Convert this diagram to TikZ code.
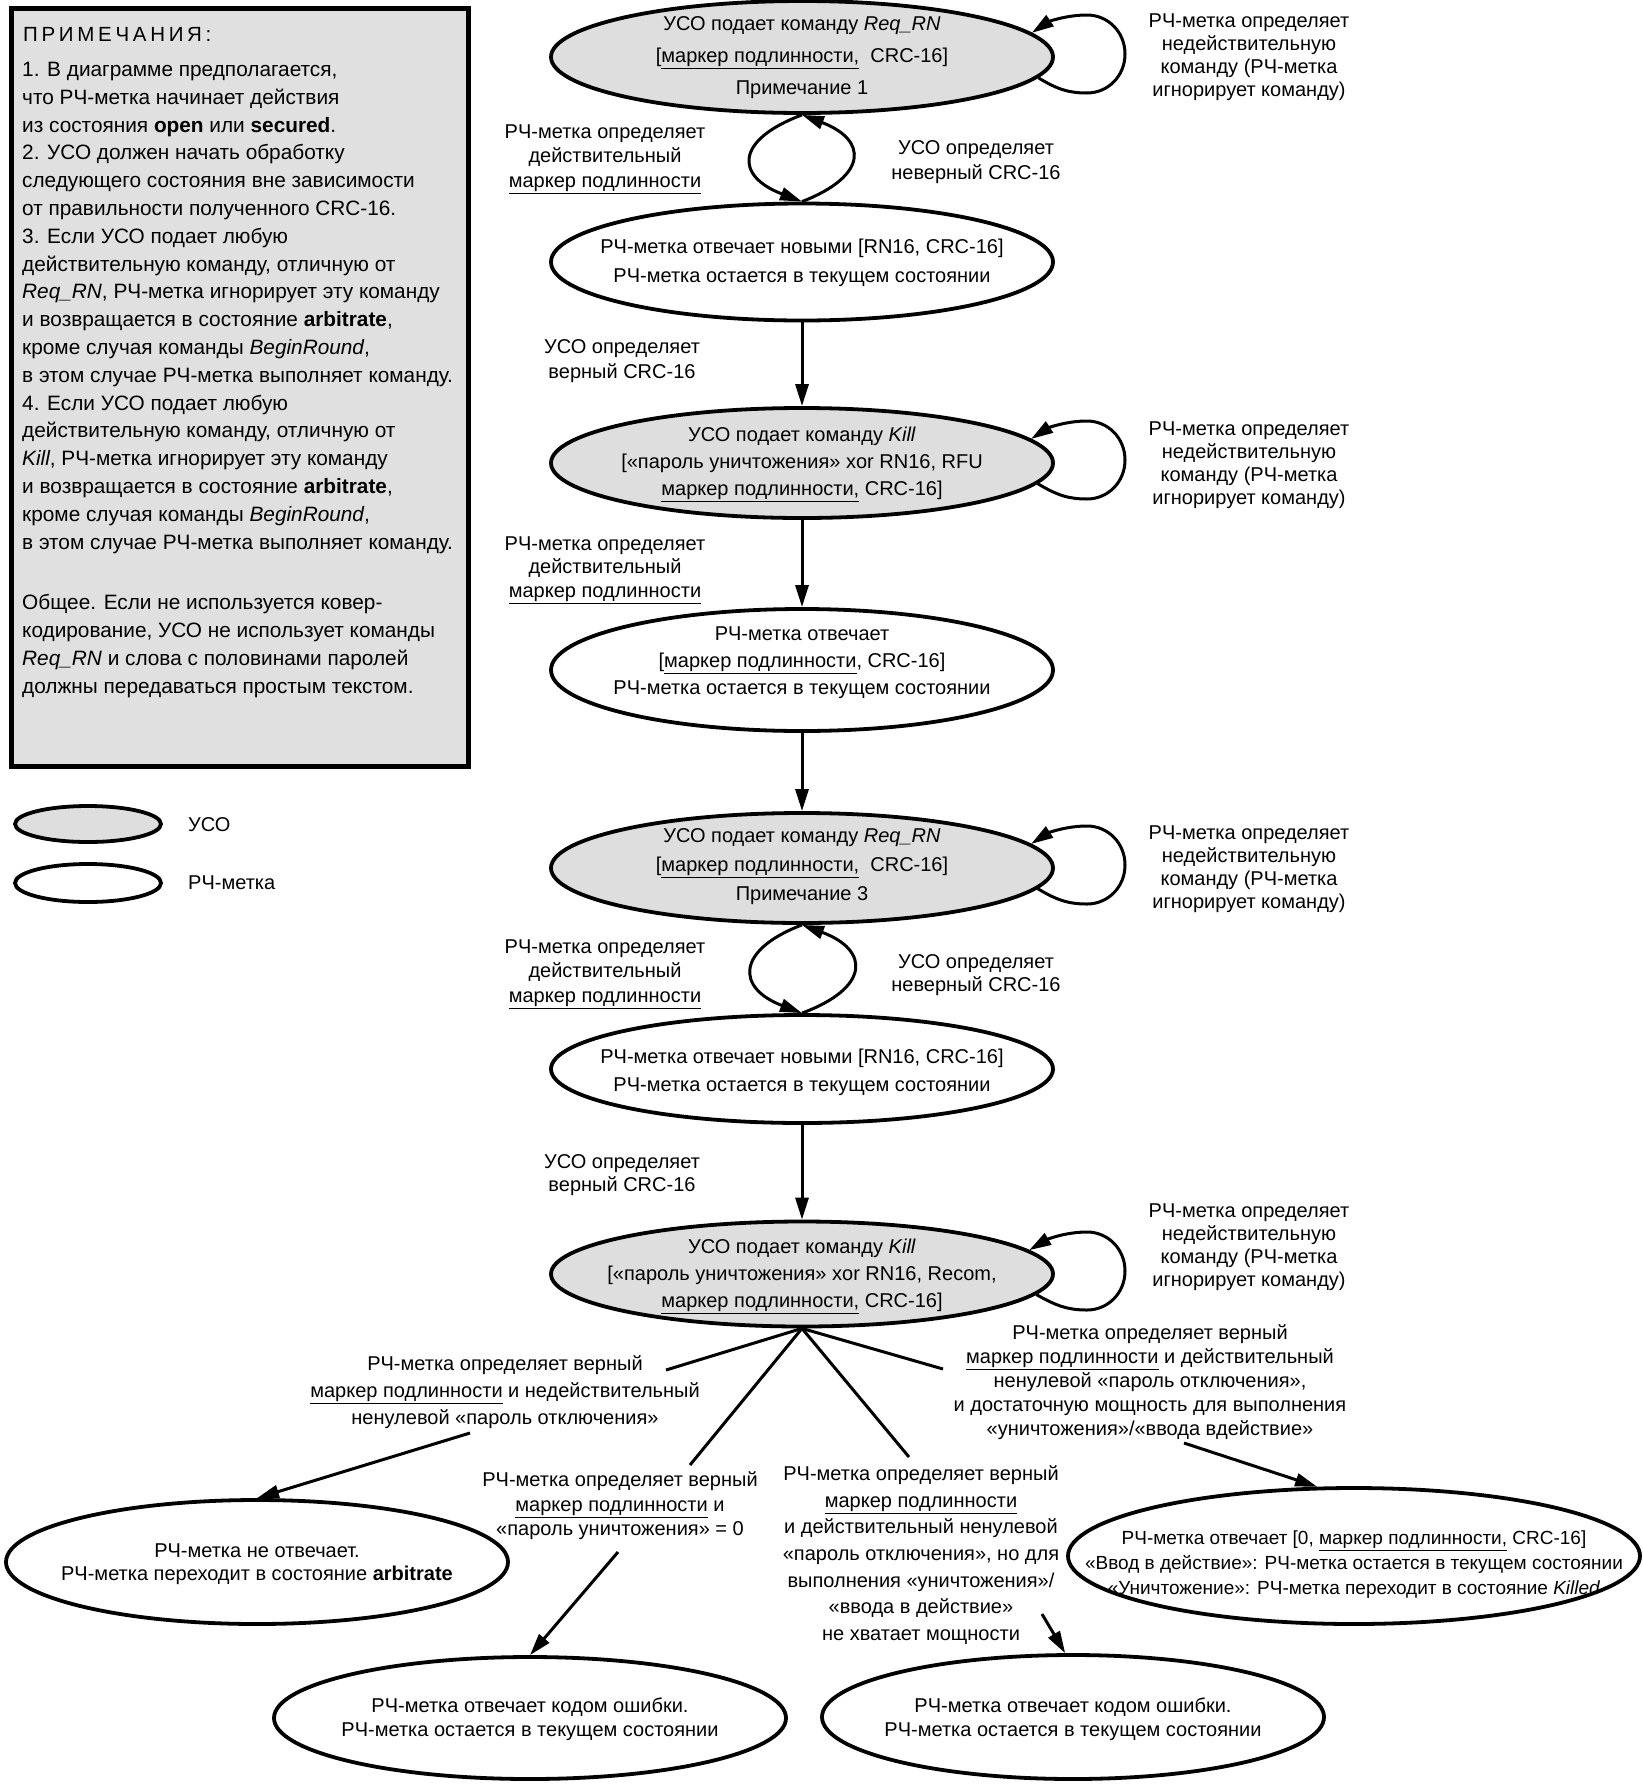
\documentclass[tikz,border=0pt]{standalone}
\usepackage{fontspec}
\setmainfont{Liberation Sans}
\usetikzlibrary{arrows.meta,shapes.geometric,calc}
\newcommand\usoloop[1]{%
  \draw[arr] (#1.-5) .. controls ($(#1.center)+(256,33)$) and ($(#1.center)+(268,36)$) .. ($(#1.center)+(285,36)$)
    .. controls ($(#1.center)+(306,36)$) and ($(#1.center)+(323,19)$) .. ($(#1.center)+(323,-3)$)
    .. controls ($(#1.center)+(323,-25)$) and ($(#1.center)+(306,-42)$) .. ($(#1.center)+(285,-42)$)
    .. controls ($(#1.center)+(264,-42)$) and ($(#1.center)+(246,-35)$) .. (#1.6);}
\begin{document}
\begin{tikzpicture}[x=1pt,y=-1pt,
  every node/.style={font=\fontsize{20}{24}\selectfont},
  usoell/.style={ellipse,draw,line width=3.8pt,fill=black!13,inner sep=0pt},
  tagell/.style={ellipse,draw,line width=3.8pt,fill=white,inner sep=0pt},
  txt/.style={align=center,inner sep=0pt,font=\fontsize{20}{#1}\selectfont},
  txt/.default=25,
  plain/.style={line width=3pt},
  arr/.style={line width=3pt,-{Triangle[length=22pt,width=13pt]}},
]
\useasboundingbox (0,0) rectangle (1642,1786);
\fill[white] (0,0) rectangle (1642,1786);

% ---------- notes box ----------
\node[draw,line width=5pt,fill=black!12,inner sep=0pt,minimum width=457,minimum height=758,anchor=north west] (notes) at (8.5,5.5) {};
\node[anchor=west,inner sep=0pt,font=\fontsize{20.5}{24}\selectfont\addfontfeatures{LetterSpace=18}] (ttl) at (23,34) {ПРИМЕЧАНИЯ:};
\node[anchor=north west,inner sep=0pt,align=left,font=\fontsize{20.8}{27.8}\selectfont] (nb) at (22,62) {%
1. В диаграмме предполагается,\\
что РЧ-метка начинает действия\\
из состояния \textbf{open} или \textbf{secured}.\\
2. УСО должен начать обработку\\
следующего состояния вне зависимости\\
от правильности полученного CRC-16.\\
3. Если УСО подает любую\\
действительную команду, отличную от\\
\textit{Req\_RN}, РЧ-метка игнорирует эту команду\\
и возвращается в состояние \textbf{arbitrate},\\
кроме случая команды \textit{BeginRound},\\
в этом случае РЧ-метка выполняет команду.\\
4. Если УСО подает любую\\
действительную команду, отличную от\\
\textit{Kill}, РЧ-метка игнорирует эту команду\\
и возвращается в состояние \textbf{arbitrate},\\
кроме случая команды \textit{BeginRound},\\
в этом случае РЧ-метка выполняет команду.\\[33pt]
Общее. Если не используется ковер-\\
кодирование, УСО не использует команды\\
\textit{Req\_RN} и слова с половинами паролей\\
должны передаваться простым текстом.};

% ---------- legend ----------
\node[usoell,minimum width=146,minimum height=36] (lg1) at (88,824) {};
\node[anchor=west,inner sep=0pt] (lg1t) at (188,825) {УСО};
\node[tagell,minimum width=146,minimum height=38] (lg2) at (88,883) {};
\node[anchor=west,inner sep=0pt] (lg2t) at (188,883) {РЧ-метка};

% ---------- ellipses ----------
\node[usoell,minimum width=502,minimum height=112] (e1) at (802,57) {};
\node[tagell,minimum width=502,minimum height=117] (e2) at (802,262) {};
\node[usoell,minimum width=502,minimum height=110] (e3) at (802,463) {};
\node[tagell,minimum width=502,minimum height=122] (e4) at (802,670) {};
\node[usoell,minimum width=502,minimum height=110] (e5) at (802,868) {};
\node[tagell,minimum width=502,minimum height=108] (e6) at (802,1069) {};
\node[usoell,minimum width=502,minimum height=105] (e7) at (802,1274) {};
\node[tagell,minimum width=502,minimum height=124] (e8) at (257,1562) {};
\node[tagell,minimum width=512,minimum height=122] (e9) at (530,1718) {};
\node[tagell,minimum width=502,minimum height=124] (e10) at (1073,1717) {};
\node[tagell,minimum width=572,minimum height=136] (e11) at (1354,1556) {};

\node[txt=32] (t1) at (802,58) {УСО подает команду \textit{Req\_RN}\\{[}\underline{маркер подлинности,}\ \ CRC-16]\\Примечание 1};
\node[txt=29] (t2) at (802,263) {РЧ-метка отвечает новыми [RN16, CRC-16]\\РЧ-метка остается в текущем состоянии};
\node[txt=27] (t3) at (802,464) {УСО подает команду \textit{Kill}\\{[}«пароль уничтожения» xor RN16, RFU\\\underline{маркер подлинности,} CRC-16]};
\node[txt=27] (t4) at (802,663) {РЧ-метка отвечает\\{[}\underline{маркер подлинности}, CRC-16]\\РЧ-метка остается в текущем состоянии};
\node[txt=29] (t5) at (802,867) {УСО подает команду \textit{Req\_RN}\\{[}\underline{маркер подлинности,}\ \ CRC-16]\\Примечание 3};
\node[txt=28] (t6) at (802,1072) {РЧ-метка отвечает новыми [RN16, CRC-16]\\РЧ-метка остается в текущем состоянии};
\node[txt=27] (t7) at (802,1276) {УСО подает команду \textit{Kill}\\{[}«пароль уничтожения» xor RN16, Recom,\\\underline{маркер подлинности,} CRC-16]};
\node[txt=23] (t8) at (257,1564) {РЧ-метка не отвечает.\\РЧ-метка переходит в состояние \textbf{arbitrate}};
\node[txt=24] (t9) at (530,1719) {РЧ-метка отвечает кодом ошибки.\\РЧ-метка остается в текущем состоянии};
\node[txt=24] (t10) at (1073,1719) {РЧ-метка отвечает кодом ошибки.\\РЧ-метка остается в текущем состоянии};
\node[align=center,inner sep=0pt,font=\fontsize{19}{25}\selectfont] (t11) at (1354,1565) {РЧ-метка отвечает [0, \underline{маркер подлинности,} CRC-16]\\«Ввод в действие»: РЧ-метка остается в текущем состоянии\\«Уничтожение»: РЧ-метка переходит в состояние \textit{Killed}};

% ---------- self loops ----------
\usoloop{e1}
\usoloop{e3}
\usoloop{e5}
\usoloop{e7}
\node[txt=23] (n1) at (1249,57) {РЧ-метка определяет\\недействительную\\команду (РЧ-метка\\игнорирует команду)};
\node[txt=23] (n3) at (1249,465) {РЧ-метка определяет\\недействительную\\команду (РЧ-метка\\игнорирует команду)};
\node[txt=23] (n5) at (1249,869) {РЧ-метка определяет\\недействительную\\команду (РЧ-метка\\игнорирует команду)};
\node[txt=23] (n7) at (1249,1247) {РЧ-метка определяет\\недействительную\\команду (РЧ-метка\\игнорирует команду)};

% ---------- lenses ----------
\draw[arr] (e1.south) .. controls (735,140) and (735,176) .. (e2.north);
\draw[arr] (e2.north) .. controls (868,176) and (868,140) .. (e1.south);
\draw[arr] (e5.south) .. controls (736,950) and (736,988) .. (e6.north);
\draw[arr] (e6.north) .. controls (870,988) and (870,950) .. (e5.south);
\node[txt=24.5] (ll1) at (605,159) {РЧ-метка определяет\\действительный\\\underline{маркер подлинности}};
\node[txt=25] (lr1) at (976,162) {УСО определяет\\неверный CRC-16};
\node[txt=24.5] (ll2) at (605,974) {РЧ-метка определяет\\действительный\\\underline{маркер подлинности}};
\node[txt=23] (lr2) at (976,975) {УСО определяет\\неверный CRC-16};

% ---------- vertical arrows ----------
\draw[arr] (e2) -- (e3);
\draw[arr] (e3) -- (e4);
\draw[arr] (e4) -- (e5);
\draw[arr] (e6) -- (e7);
\node[txt=25] (v1) at (622,361) {УСО определяет\\верный CRC-16};
\node[txt=23.5] (v2) at (605,570) {РЧ-метка определяет\\действительный\\\underline{маркер подлинности}};
\node[txt=22.5] (v3) at (622,1175) {УСО определяет\\верный CRC-16};

% ---------- branches from e7 ----------
\coordinate (b1s) at (666,1370);
\coordinate (b1t) at (470,1433);
\coordinate (b2s) at (690,1465);
\coordinate (b2t) at (618,1552);
\coordinate (b3s) at (909,1457);
\coordinate (b3t) at (1042,1614);
\coordinate (b4s) at (943,1369);
\coordinate (b4t) at (1184,1443);
\draw[plain] (e7.south) -- (b1s);
\draw[arr] (b1t) -- (e8.north);
\draw[plain] (e7.south) -- (b2s);
\draw[arr] (b2t) -- (e9.north);
\draw[plain] (e7.south) -- (b3s);
\draw[arr] (b3t) -- (e10.97);
\draw[plain] (e7.south) -- (b4s);
\draw[arr] (b4t) -- (e11.118);

\node[txt=27] (l1) at (505,1392) {РЧ-метка определяет верный\\\underline{маркер подлинности} и недействительный\\ненулевой «пароль отключения»};
\node[txt=24.5] (l2) at (620,1506) {РЧ-метка определяет верный\\\underline{маркер подлинности} и\\«пароль уничтожения» = 0};
\node[txt=26.6] (l3) at (921,1555) {РЧ-метка определяет верный\\\underline{маркер подлинности}\\и действительный ненулевой\\«пароль отключения», но для\\выполнения «уничтожения»/\\«ввода в действие»\\не хватает мощности};
\node[txt=24] (l4) at (1150,1382) {РЧ-метка определяет верный\\\underline{маркер подлинности} и действительный\\ненулевой «пароль отключения»,\\и достаточную мощность для выполнения\\«уничтожения»/«ввода вдействие»};
\end{tikzpicture}
\end{document}
